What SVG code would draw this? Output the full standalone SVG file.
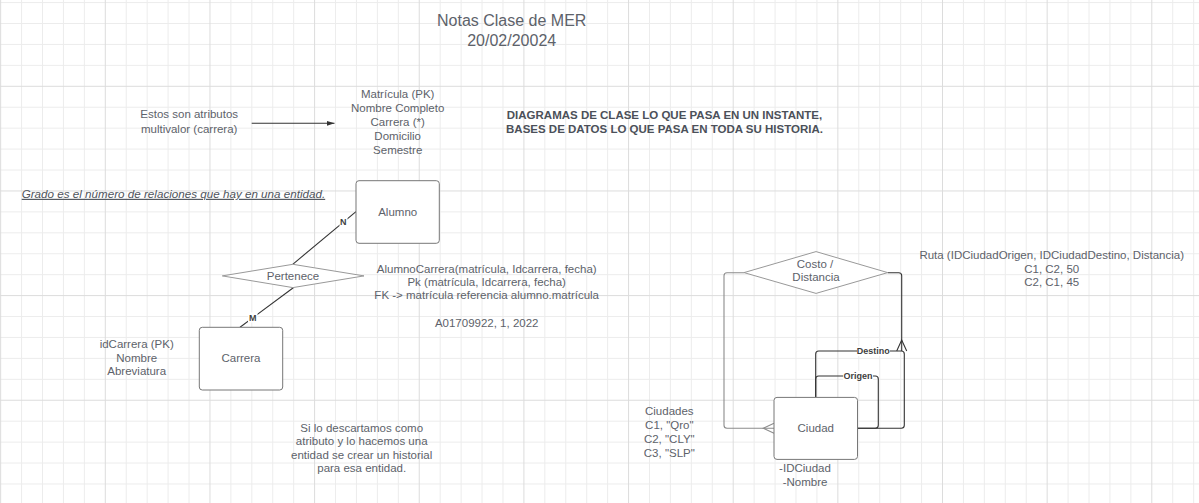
<svg xmlns="http://www.w3.org/2000/svg" width="1199" height="503" viewBox="0 0 1199 503">
<style>
.t{font-family:"Liberation Sans",Arial,sans-serif;font-size:11.5px;fill:#5d626a;text-anchor:middle}
.title{font-size:16px}
.b{font-weight:bold;fill:#4b5059}
.it{font-style:italic;font-size:11.65px;text-anchor:start;text-decoration:underline;fill:#4f545c}
.el{font-family:"Liberation Sans",Arial,sans-serif;font-size:9px;font-weight:bold;fill:#3e3e3e;text-anchor:middle}
.box{fill:#fff;stroke:#777;stroke-width:1}
.dia{fill:#fff;stroke:#999;stroke-width:1}
.ln{fill:none;stroke:#333;stroke-width:1.1}
.lnl{fill:none;stroke:#8c8c8c;stroke-width:1.1}
.lbg{fill:#fff}
</style>
<defs>
<pattern id="grid" patternUnits="userSpaceOnUse" x="0.15" y="-18.85" width="104.65" height="104.65">
<path d="M21.43 0V104.65M42.36 0V104.65M63.29 0V104.65M84.22 0V104.65M0 21.43H104.65M0 42.36H104.65M0 63.29H104.65M0 84.22H104.65" stroke="#ececec" stroke-width="1" fill="none"/>
<path d="M0.5 0V104.65M0 0.5H104.65" stroke="#dcdcdc" stroke-width="1" fill="none"/>
</pattern>
<marker id="arr" markerWidth="9" markerHeight="6" refX="8" refY="3" orient="auto" markerUnits="userSpaceOnUse">
<path d="M0 0.5L8 3L0 5.5Z" fill="#333"/>
</marker>
</defs>
<rect width="1199" height="503" fill="#fff"/>
<rect width="1199" height="503" fill="url(#grid)"/>

<g id="connectors">
<path class="ln" d="M251.7 123.3H334.5" marker-end="url(#arr)"/>
<path class="ln" d="M356 211.7L292.7 264.3"/>
<path class="ln" d="M293.3 287.7L240 327.3"/>
<path class="lnl" d="M744 272.7H727Q724 272.7 724 275.7V425.3Q724 428.3 727 428.3H774"/>
<path class="lnl" d="M774 423.3L763.3 428.3L774 433.3"/>
<path class="ln" d="M887.7 272.7H898.7Q901.7 272.7 901.7 275.7V351"/>
<path class="ln" d="M896.7 351L901.7 340L906.7 351"/>
<path class="ln" d="M815.7 397V354Q815.7 351 818.7 351H901.3Q904.3 351 904.3 354V425.3Q904.3 428.3 901.3 428.3H857.5"/>
<path class="ln" d="M815.7 397V379Q815.7 376 818.7 376H875.3Q878.3 376 878.3 379V425.3Q878.3 428.3 875.3 428.3H857.5"/>
<rect class="lbg" x="339.5" y="216.5" width="8" height="10"/>
<text class="el" x="343.3" y="225">N</text>
<rect class="lbg" x="248" y="312.5" width="9.5" height="10"/>
<text class="el" x="252.7" y="321">M</text>
<rect class="lbg" x="857" y="346" width="33" height="10"/>
<text class="el" x="873.3" y="354.3">Destino</text>
<rect class="lbg" x="843" y="371" width="30" height="10"/>
<text class="el" x="858" y="379.3">Origen</text>
</g>

<g id="title">
<text class="t title" x="511.7" y="25.8">Notas Clase de MER</text>
<text class="t title" x="511.7" y="46">20/02/20024</text>
</g>

<g id="note-multivalor">
<text class="t" x="189.2" y="118.3">Estos son atributos</text>
<text class="t" x="189.2" y="132.6">multivalor (carrera)</text>
</g>

<g id="attrs-alumno">
<text class="t" x="397.7" y="98.2">Matrícula (PK)</text>
<text class="t" x="397.7" y="112.1">Nombre Completo</text>
<text class="t" x="397.7" y="126">Carrera (*)</text>
<text class="t" x="397.7" y="139.9">Domicilio</text>
<text class="t" x="397.7" y="153.8">Semestre</text>
</g>

<g id="note-diagramas">
<text class="t b" x="664.5" y="119.3">DIAGRAMAS DE CLASE LO QUE PASA EN UN INSTANTE,</text>
<text class="t b" x="664.5" y="132.7">BASES DE DATOS LO QUE PASA EN TODA SU HISTORIA.</text>
</g>

<g id="note-grado">
<text class="t it" x="21.7" y="197.8">Grado es el número de relaciones que hay en una entidad.</text>
</g>

<g id="alumno">
<rect class="box" x="356" y="180.7" width="83.3" height="62.6" rx="3"/>
<text class="t" x="397.7" y="215.7">Alumno</text>
</g>

<g id="pertenece">
<path class="dia" d="M222.3 275.9L292.9 264.3L364 275.9L292.9 287.6Z"/>
<text class="t" x="293" y="279.5">Pertenece</text>
</g>

<g id="carrera">
<rect class="box" x="199.3" y="327.3" width="83.4" height="62.7" rx="3"/>
<text class="t" x="241" y="362">Carrera</text>
</g>

<g id="attrs-carrera">
<text class="t" x="136.7" y="347.7">idCarrera (PK)</text>
<text class="t" x="136.7" y="361.5">Nombre</text>
<text class="t" x="136.7" y="375.3">Abreviatura</text>
</g>

<g id="note-alumnocarrera">
<text class="t" x="486.7" y="272.7">AlumnoCarrera(matrícula, Idcarrera, fecha)</text>
<text class="t" x="486.7" y="286">Pk (matrícula, Idcarrera, fecha)</text>
<text class="t" x="486.7" y="299.3">FK -&gt; matrícula referencia alumno.matrícula</text>
<text class="t" x="486.7" y="326.7">A01709922, 1, 2022</text>
</g>

<g id="note-descartamos">
<text class="t" x="361.7" y="431.7">Si lo descartamos como</text>
<text class="t" x="361.7" y="445.2">atributo y lo hacemos una</text>
<text class="t" x="361.7" y="458.7">entidad se crear un historial</text>
<text class="t" x="361.7" y="472.2">para esa entidad.</text>
</g>

<g id="costo-distancia">
<path class="dia" d="M744 272.6L816 251.6L887.7 272.6L816 293.4Z"/>
<text class="t" x="815" y="267.5">Costo /</text>
<text class="t" x="816" y="281.2">Distancia</text>
</g>

<g id="ciudad">
<rect class="box" x="774" y="397.4" width="83.5" height="62" rx="3"/>
<text class="t" x="815.8" y="432">Ciudad</text>
</g>

<g id="attrs-ciudad">
<text class="t" x="805" y="471.7">-IDCiudad</text>
<text class="t" x="805" y="485.6">-Nombre</text>
</g>

<g id="note-ciudades">
<text class="t" x="669.3" y="415">Ciudades</text>
<text class="t" x="669.3" y="428.9">C1, "Qro"</text>
<text class="t" x="669.3" y="442.8">C2, "CLY"</text>
<text class="t" x="669.3" y="456.7">C3, "SLP"</text>
</g>

<g id="note-ruta">
<text class="t" x="1051.7" y="259.3">Ruta (IDCiudadOrigen, IDCiudadDestino, Distancia)</text>
<text class="t" x="1051.7" y="272.6">C1, C2, 50</text>
<text class="t" x="1051.7" y="285.9">C2, C1, 45</text>
</g>
</svg>
